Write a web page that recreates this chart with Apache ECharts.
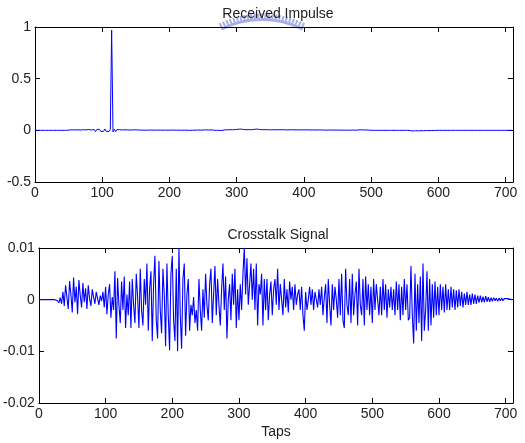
<!DOCTYPE html>
<html>
<head>
<meta charset="utf-8">
<script src="https://cdn.jsdelivr.net/npm/echarts@6/dist/echarts.min.js"></script>
<style>html,body{margin:0;padding:0;background:#fff}#c{width:525px;height:443px}</style>
</head>
<body>
<div id="c"></div>
<script>
// Sample spacing (taps) of both traces
const tapStep = 2;
const xTicks = [0, 100, 200, 300, 400, 500, 600, 700];
const impulseTitle = 'Received Impulse';
const crosstalkTitle = 'Crosstalk Signal';
const xLabel = 'Taps';

// Received impulse (every 2 taps starting at 0)
const impulse = [
 0,0,0,0,0,0,0,0,0,0,
 0,0,0,0,0,0,0,0,0,0,
 0,0,0,0,0,-0.006,0.004,-0.007,0.005,-0.006,
 0.004,-0.007,0.005,-0.006,0.003,-0.007,0.006,-0.005,0.004,-0.006,
 0.008,-0.006,0.003,-0.004,0.008,-0.012,0.009,-0.008,0.010,-0.011,
 0.007,-0.009,0.012,-0.010,0.006,-0.012,0.008,0.970,-0.015,0.010,
 -0.012,0.008,-0.009,0.006,-0.008,0.004,-0.006,0.005,-0.007,0.004,
 -0.005,0.003,-0.006,0.004,-0.003,0.005,-0.004,0.003,-0.005,0.002,
 -0.004,0.002,-0.003,0.001,-0.002,0.003,-0.003,0.002,-0.004,0.002,
 -0.003,0.002,-0.002,0.003,-0.003,0.001,-0.002,0.002,-0.001,0.001,
 -0.003,0.002,-0.004,0.003,-0.002,0.001,-0.003,0.002,-0.001,0,
 0,0.002,-0.002,0.001,0,0,-0.001,0.001,0,0.002,
 -0.002,0.003,-0.004,0.002,-0.001,0.003,-0.003,0.005,-0.004,0.003,
 -0.002,0.004,-0.003,0.001,0,0,-0.001,0,0.001,-0.002,
 -0.006,0.004,-0.003,0.005,-0.002,0.006,-0.004,0.005,-0.003,0.008,
 -0.004,0.010,-0.006,0.012,-0.003,0.008,-0.005,0.006,-0.004,0.007,
 -0.003,0.006,-0.004,0.009,-0.002,0.013,-0.003,0.008,-0.002,0.006,
 -0.002,0.007,0,0.006,-0.002,0.005,-0.001,0.006,-0.002,0.005,
 -0.001,0.006,-0.002,0.005,0,0.006,-0.002,0.004,-0.001,0.005,
 -0.002,0.006,-0.001,0.004,-0.002,0.005,0,0.004,-0.002,0.005,
 -0.001,0.004,-0.002,0.005,-0.001,0.003,-0.002,0.004,-0.001,0.003,
 -0.002,0.004,-0.001,0.003,-0.002,0.003,0,0.002,-0.001,0.003,
 -0.002,0.003,-0.001,0.002,-0.002,0.003,0,0.002,-0.001,0.002,
 0,0.001,-0.001,0.002,0,0.001,-0.001,0.003,-0.002,0.001,
 0,0.004,-0.002,0.005,-0.001,0.003,-0.002,0.004,0,0.001,
 0,0,0,0,0,0,0,0,0,0,
 0,0,0,0,0,0,0,0,0,0,
 0,0,0,0,0,0,0,0,0.003,-0.002,
 0.004,-0.006,0.003,-0.004,0.006,-0.005,0.004,-0.003,0.005,-0.004,
 0.003,-0.002,0.004,-0.003,0.002,-0.001,0.003,-0.002,0,0,
 0,0,0,0,0,0,0.002,-0.001,0,0,
 0,0,0,0,0,0,0,0,0,0,
 0,0,0,0,0,0,0,0,0,0,
 0,0,0,0,0,0,0,0,0,0,
 0,0,0,0,0,0,0,0,0,0,
 0,0,0,0,0,0
];

// Crosstalk signal in units of 1e-3 (every 2 taps starting at 0)
const crosstalkMilli = [
 0,0,0,0,0,0,0,0,0,0,
 0,0,0,-0.3,-0.2,-0.6,0.4,-0.8,1.5,-1.2,
 2.8,0.5,-1.8,3.6,1,-2.5,4.3,-0.5,2.5,-2.8,
 3.8,0.8,-1.5,3.2,-0.5,2.2,-1.8,2.8,0.2,-1.2,
 2,0.5,-0.8,1.5,0.2,-1,0.8,-0.3,1.5,-1.5,
 2.5,-2.8,1,3,-3.5,0.5,-2,5.5,-7.5,4.2,
 -1,-4.5,3.5,-2,4.5,-5.5,1,-3,3.5,-5.5,
 4,-1,-4.5,5,0.5,-5.5,6,-2,-5,4,
 -1,7,-6,2,5.5,-8,3,8.5,-4,-7.5,
 7.5,-2,-6.5,6,1,-9,7,-3,-9.8,5,
 8.5,-4,-8,6,-10,10,-3,-9.5,4,7,
 -7,1,4,-6,-1,-3,0.5,-4.5,-2,-6,
 4,-2,-6,2,-3.5,5,-1,-4,3,6,
 -4.5,1,6.5,-3,4,-1,-5,2,7,-2,
 4.5,-7.5,0,3,-4,5,-1,6,-5.5,2,
 -4,3,-2,5,10,1,8,-1,3,7,
 0,6,-2,7,-5,3,1,5,-5,4,
 -2,4,-4,1,3.5,-3,2,4,-1,6,
 -2,3,0,-3,4,-1.5,2,-2.5,3.5,0,
 2.5,-2,3,-1,1,2,-2,2.5,-3,-6,
 1.5,-2,0,2.5,-1,2,-2,1.5,0,-1.5,
 2,-1,2.5,-3,0.5,3,-4.5,4,-1,-5,
 3,-2,2.5,0,-3.5,4,-3,5,-4,-5.5,
 6,-1,-3,4,-4.5,5,-3,1,3.5,-5,
 6,-1,-3,4,-5,4.5,-2,3,-3,2.5,
 -4.5,4,-2,3,0,-3,2.5,-3,4,-2,
 3,-3.5,2,-1.5,2.5,-2,2,-3,3.5,-2,
 3,-4,2.5,-3,4,-2,3,-4,-3.5,6.5,
 -3,-8.5,5,-6,3,-4.5,4.5,-8,7,-6,
 -2,5.5,-6,4,-5,3,-3.5,3.5,-3,2.5,
 -3,3,-2,2.5,-2.5,3,-2,2,-2,2.5,
 -1.5,2,-2,1.8,-1.5,2,-1.2,1.5,-1.5,1.2,
 -1,1.5,-1,1,-1,1.2,-0.8,1,-0.8,0.8,
 -0.6,0.8,-0.5,0.6,-0.5,0.7,-0.4,0.5,-0.4,0.4,
 -0.3,0.4,-0.2,0.3,-0.3,0.3,-0.2,0.3,-0.2,0.2,
 -0.1,0.2,-0.1,0.1,0,0
];
const crosstalk = crosstalkMilli.map(v => v / 1000); // unit conversion to volts

const impulseData = impulse.map((v, i) => [i * tapStep, v]);
const crosstalkData = crosstalk.map((v, i) => [i * tapStep, v]);

const FONT = 'Liberation Sans, Arial, sans-serif';
const textCol = '#222';
const axisLine = { show: true, onZero: false, lineStyle: { color: '#000', width: 1 } };
const tickIn = { show: true, inside: true, length: 5, lineStyle: { color: '#000' } };
const lbl = { color: textCol, fontSize: 14, fontFamily: FONT };
function fmt(v) { return String(+v.toFixed(4)); }

const xCommon = (grid) => ({
  type: 'value', gridIndex: grid, min: 0, max: 711, interval: 100,
  axisLine, axisTick: tickIn, splitLine: { show: false },
  axisLabel: Object.assign({ margin: 4, showMaxLabel: false, formatter: v => xTicks.includes(v) ? String(v) : '' }, lbl)
});
const xTop = (grid) => ({
  type: 'value', gridIndex: grid, min: 0, max: 711, interval: 100, position: 'top',
  axisLine, axisTick: tickIn, splitLine: { show: false }, axisLabel: { show: false }
});

const chart = echarts.init(document.getElementById('c'), null, { renderer: 'canvas' });
chart.setOption({
  backgroundColor: '#fff',
  animation: false,
  graphic: [
    { type: 'arc', z: 0, silent: true,
      shape: { cx: 262, cy: 111, r: 94, startAngle: -2.03, endAngle: -1.11, clockwise: true },
      style: { stroke: '#a7afe4', lineWidth: 7, lineDash: [2, 1.5], fill: null } },
    { type: 'arc', z: 0, silent: true,
      shape: { cx: 262, cy: 111, r: 91.5, startAngle: -2.03, endAngle: -1.11, clockwise: true },
      style: { stroke: '#a7afe4', lineWidth: 3, fill: null } }
  ],
  title: [
    { text: impulseTitle, left: 273, top: 2, textAlign: 'center', z: 10, textStyle: { fontSize: 14, fontWeight: 'normal', color: textCol, fontFamily: FONT } },
    { text: crosstalkTitle, left: 273, top: 223, textAlign: 'center', textStyle: { fontSize: 14, fontWeight: 'normal', color: textCol, fontFamily: FONT } }
  ],
  grid: [
    { left: 35, top: 27, width: 478, height: 155 },
    { left: 35, top: 248, width: 478, height: 155 }
  ],
  xAxis: [
    xCommon(0),
    Object.assign(xCommon(1), { name: xLabel, nameLocation: 'middle', nameGap: 22, nameTextStyle: lbl }),
    xTop(0), xTop(1)
  ],
  yAxis: [
    { type: 'value', gridIndex: 0, min: -0.5, max: 1, interval: 0.5, axisLine, axisTick: tickIn, splitLine: { show: false },
      axisLabel: Object.assign({ margin: 4, formatter: fmt }, lbl) },
    { type: 'value', gridIndex: 1, min: -0.02, max: 0.01, interval: 0.01, axisLine, axisTick: tickIn, splitLine: { show: false },
      axisLabel: Object.assign({ margin: 4, formatter: fmt }, lbl) },
    { type: 'value', gridIndex: 0, min: -0.5, max: 1, interval: 0.5, position: 'right', axisLine, axisTick: tickIn, splitLine: { show: false }, axisLabel: { show: false } },
    { type: 'value', gridIndex: 1, min: -0.02, max: 0.01, interval: 0.01, position: 'right', axisLine, axisTick: tickIn, splitLine: { show: false }, axisLabel: { show: false } }
  ],
  series: [
    { type: 'line', xAxisIndex: 0, yAxisIndex: 0, data: impulseData, showSymbol: false, lineStyle: { color: '#0000ff', width: 1 }, clip: true },
    { type: 'line', xAxisIndex: 1, yAxisIndex: 1, data: crosstalkData, showSymbol: false, lineStyle: { color: '#0000ff', width: 1.1 }, clip: true }
  ]
});
</script>
</body>
</html>
